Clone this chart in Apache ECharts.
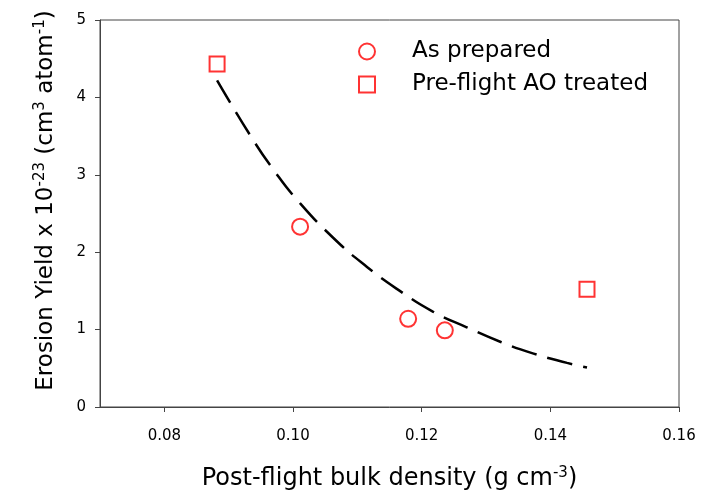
<!DOCTYPE html>
<html>
<head>
<meta charset="utf-8">
<script src="https://cdn.jsdelivr.net/npm/echarts@6/dist/echarts.min.js"></script>
<style>
  html, body { margin: 0; padding: 0; background: #fff; }
  #chart { width: 704px; height: 496px; }
</style>
</head>
<body>
<div id="chart"></div>
<script>
// values
const asPrepared = [[0.1011, 2.33], [0.1179, 1.14], [0.1236, 0.99]];
const preFlightAO = [[0.0882, 4.43], [0.1457, 1.52]];
// dashed fit curve
const fitCurve = [
  [0.0882, 4.22], [0.0935, 3.49], [0.0971, 3.05], [0.1007, 2.67],
  [0.1062, 2.19], [0.1115, 1.81], [0.1166, 1.50], [0.1218, 1.23],
  [0.1270, 1.03], [0.1323, 0.84], [0.1374, 0.69], [0.1426, 0.57],
  [0.1457, 0.51]
];
const xTicks = [0.08, 0.10, 0.12, 0.14, 0.16];

const myChart = echarts.init(document.getElementById("chart"));
const font = "DejaVu Sans, Arial, sans-serif";
myChart.setOption({
  animation: false,
  grid: {
    left: 100,
    right: 25,
    top: 20,
    bottom: 89,
    show: true,
    borderColor: "#444",
    borderWidth: 1
  },
  legend: {
    orient: "vertical",
    left: 353,
    top: 35,
    itemWidth: 16,
    itemHeight: 16,
    itemGap: 10,
    data: ["As prepared", "Pre-flight AO treated"],
    textStyle: {
      fontFamily: font,
      fontSize: 23,
      color: "#000",
      padding: [0, 0, 0, 32]
    }
  },
  xAxis: {
    type: "value",
    min: 0.07,
    max: 0.16,
    name: "Post-flight bulk density (g cm{sup|-3})",
    nameLocation: "middle",
    nameGap: 59,
    nameTextStyle: {
      fontFamily: font,
      fontSize: 24,
      color: "#000",
      rich: {
        sup: { fontFamily: font, fontSize: 15, color: "#000", verticalAlign: "top", lineHeight: 26 }
      }
    },
    splitLine: { show: false },
    axisLine: { onZero: false, lineStyle: { color: "#444" } },
    axisTick: { show: true, length: 5, customValues: xTicks, lineStyle: { color: "#444" } },
    axisLabel: {
      customValues: xTicks,
      margin: 22,
      fontFamily: font,
      fontSize: 15,
      color: "#000",
      formatter: (v) => v.toFixed(2)
    }
  },
  yAxis: {
    type: "value",
    min: 0,
    max: 5,
    interval: 1,
    name: "Erosion Yield x 10{sup|-23} (cm{sup|3} atom{sup|-1})",
    nameLocation: "middle",
    nameGap: 41,
    nameTextStyle: {
      fontFamily: font,
      fontSize: 23,
      color: "#000",
      padding: [0, 0, 0, 26],
      rich: {
        sup: { fontFamily: font, fontSize: 15, color: "#000", verticalAlign: "top", lineHeight: 26 }
      }
    },
    splitLine: { show: false },
    axisLine: { show: true, onZero: false, lineStyle: { color: "#444" } },
    axisTick: { show: true, length: 5, lineStyle: { color: "#444" } },
    axisLabel: {
      margin: 14,
      fontFamily: font,
      fontSize: 15,
      color: "#000"
    }
  },
  series: [
    {
      name: "fit",
      type: "line",
      data: fitCurve,
      smooth: true,
      showSymbol: false,
      silent: true,
      lineStyle: { color: "#000", width: 2.5, type: [26, 11] }
    },
    {
      name: "As prepared",
      type: "scatter",
      data: asPrepared,
      symbol: "circle",
      symbolSize: 16,
      itemStyle: { color: "#fff", borderColor: "#ff0000", borderWidth: 2 }
    },
    {
      name: "Pre-flight AO treated",
      type: "scatter",
      data: preFlightAO,
      symbol: "rect",
      symbolSize: 15,
      itemStyle: { color: "#fff", borderColor: "#ff0000", borderWidth: 2 }
    }
  ]
});
</script>
</body>
</html>
